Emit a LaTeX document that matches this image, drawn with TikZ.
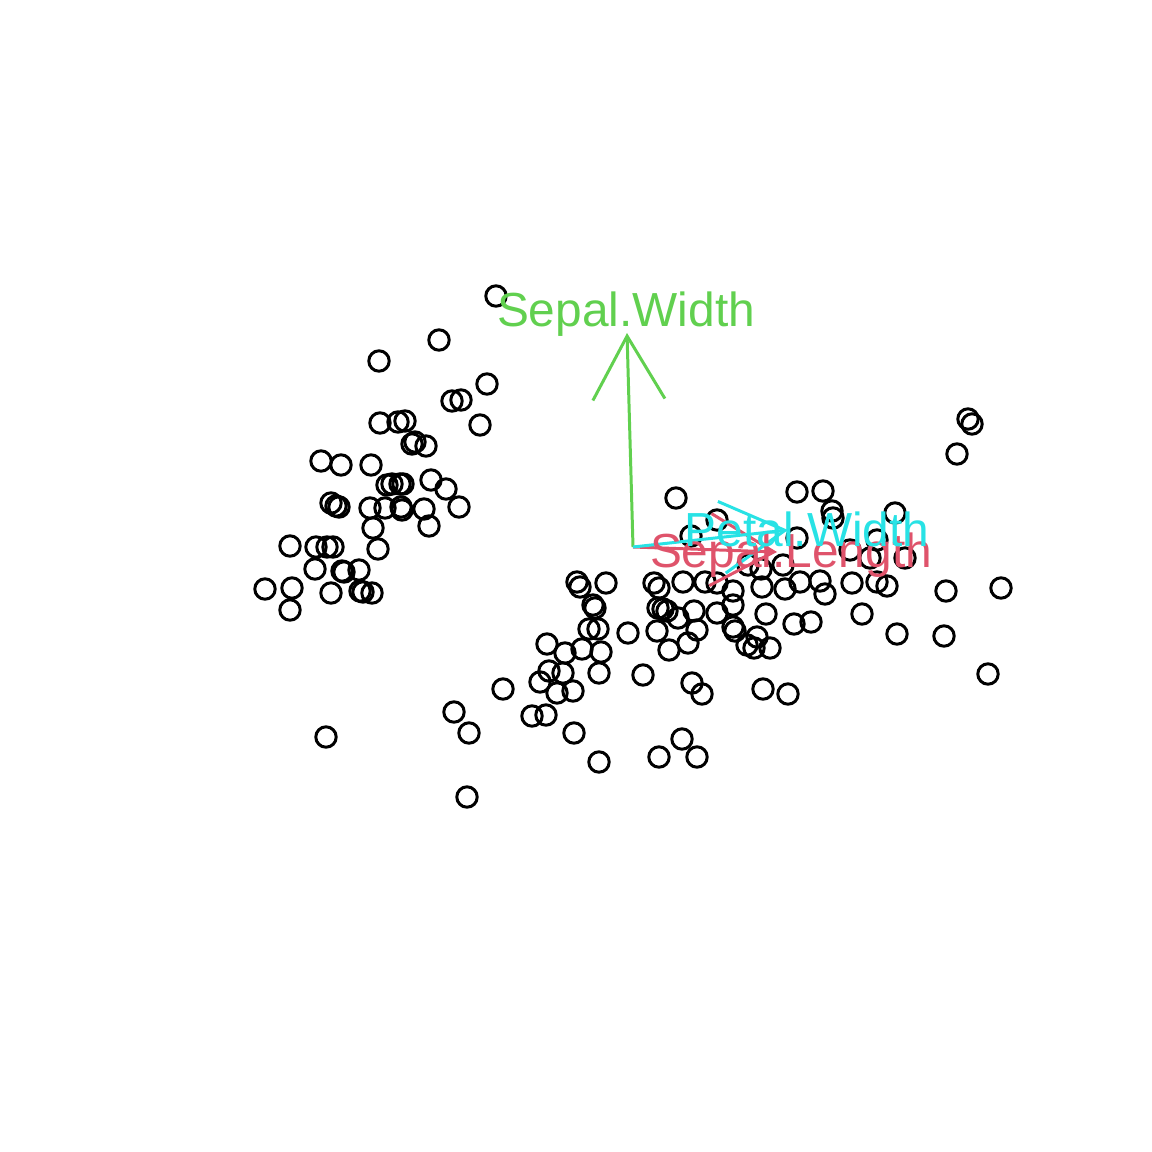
\documentclass[tikz,border=0pt]{standalone}
\usepackage{fontspec}
\setmainfont{Liberation Sans}
\usepackage{xcolor}
\usetikzlibrary{arrows.meta}

\definecolor{slred}{HTML}{DF536B}
\definecolor{swgreen}{HTML}{61D04F}
\definecolor{pwcyan}{HTML}{28E2E5}

\begin{document}
\begin{tikzpicture}[x=0.01cm,y=-0.01cm,
  obs/.style={draw=black,line width=0.85pt},
  loading/.style={line width=0.85pt,-{Straight Barb[length=0.635cm,width=0.72cm]}},
  varlabel/.style={inner sep=0pt,anchor=base,font=\fontsize{13.6}{16}\selectfont}]
\useasboundingbox[fill=white] (0,0) rectangle (1152,1152);

% observations
\foreach \px/\py in {496/296,439/340,379/361,487/384,452/401,461/400,480/425,380/423,
  398/422,405/421,412/444,415/442,426/446,321/461,341/465,371/465,431/480,446/489,
  387/485,392/484,400/484,403/484,331/503,336/506,339/507,370/508,385/508,401/507,
  402/510,424/509,459/507,429/526,373/528,290/546,316/547,327/547,333/547,378/549,
  315/569,342/571,344/572,359/570,265/589,292/588,331/593,360/591,363/592,372/593,
  290/610,326/737}
  \draw[obs] (\px,\py) circle [radius=0.102cm];
\foreach \px/\py in {454/712,469/733,503/689,467/797,
  577/582,580/587,606/583,593/605,595/608,589/629,598/629,
  654/583,659/588,683/582,705/582,717/583,733/591,
  658/608,663/609,667/611,678/618,694/611,717/613,733/605,733/627,735/631,
  747/645,754/648,770/648,757/637,766/614,
  628/633,657/631,697/630,688/643,669/650,
  547/644,565/653,582/649,601/652,549/671,563/673,540/682,599/673,557/693,573/691,
  532/716,546/715,574/733,599/762,643/675,692/683,702/694,682/739,659/757,697/757}
  \draw[obs] (\px,\py) circle [radius=0.102cm];
\foreach \px/\py in {676/498,717/520,691/536,748/565,761/569,783/565,797/538,
  797/492,823/491,832/511,833/518,895/513,850/550,877/540,870/558,905/558,
  762/587,785/589,800/582,820/581,825/594,852/583,877/582,887/586,946/591,1001/588,
  862/614,794/624,811/622,897/634,944/636,988/674,763/689,788/694,
  968/419,972/424,957/454}
  \draw[obs] (\px,\py) circle [radius=0.102cm];

% loadings
\coordinate (origin) at (633,547);
\coordinate (sltip) at (777,552);
\coordinate (swtip) at (627,333);
\coordinate (pwtip) at (788,530);

\draw[loading,slred] (origin) -- (sltip);
\draw[loading,swgreen] (origin) -- (swtip);
\draw[loading,pwcyan] (origin) -- (pwtip);

\node[varlabel,text=slred] (sllab) at (791,567) {Sepal.Length};
\node[varlabel,text=swgreen] (swlab) at (626,327) {Sepal.Width};
\node[varlabel,text=pwcyan] (pwlab) at (807,546) {Petal.Width};
\end{tikzpicture}
\end{document}
